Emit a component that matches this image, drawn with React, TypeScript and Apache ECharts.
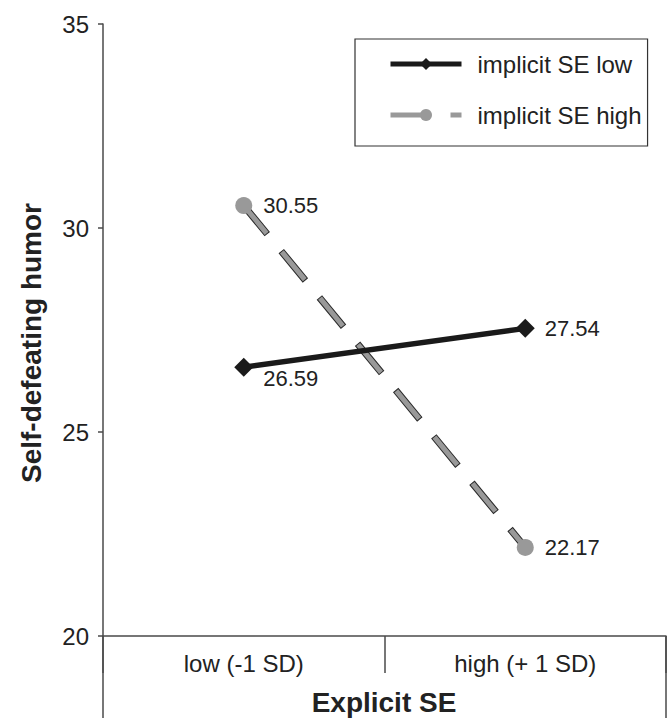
import React, { useEffect, useRef } from "react";
import * as echarts from "echarts";

const categories = ["low (-1 SD)", "high (+ 1 SD)"];
const implicitLow = [26.59, 27.54];
const implicitHigh = [30.55, 22.17];
const yTicks = { min: 20, max: 35, interval: 5 };
const seriesNames = ["implicit SE low", "implicit SE high"];
const yTitle = "Self-defeating humor";
const xTitle = "Explicit SE";

const FONT = "'Liberation Sans', Arial, Helvetica, sans-serif";
const AXIS = "#4a4a4a";
const TEXT = "#222222";

export default function App() {
  const ref = useRef<HTMLDivElement>(null);
  useEffect(() => {
    if (!ref.current) return;
    const chart = echarts.init(ref.current, undefined, { renderer: "svg" });
    chart.setOption({
      animation: false,
      backgroundColor: "#ffffff",
      textStyle: { fontFamily: FONT },
      grid: { left: 103, right: 4, top: 24, bottom: 82, containLabel: false },
      legend: {
        data: [
          { name: seriesNames[0], lineStyle: { width: 5, color: "#1a1a1a" } },
          { name: seriesNames[1], lineStyle: { width: 5, color: "#999999", type: [36, 24] } },
        ],
        orient: "vertical",
        left: 355,
        top: 39,
        padding: [13, 6, 19, 33],
        itemWidth: 71,
        itemHeight: 15,
        itemGap: 27,
        borderColor: "#333",
        borderWidth: 1.2,
        selectedMode: false,
        textStyle: { fontSize: 24, color: TEXT, fontFamily: FONT, padding: [0, 0, 0, 11] },
      },
      xAxis: [
        {
          type: "category",
          data: categories,
          axisLine: { lineStyle: { color: AXIS, width: 1.5 } },
          axisTick: { show: true, length: 37, lineStyle: { color: AXIS, width: 1.5 } },
          axisLabel: { fontSize: 24, color: TEXT, margin: 15, fontFamily: FONT },
          splitLine: { show: false },
        },
        {
          type: "category",
          data: [""],
          position: "bottom",
          axisLine: { show: false },
          axisTick: { show: true, length: 84, lineStyle: { color: AXIS, width: 1.5 } },
          axisLabel: { show: false },
          splitLine: { show: false },
        },
      ],
      yAxis: {
        type: "value",
        min: yTicks.min,
        max: yTicks.max,
        interval: yTicks.interval,
        axisLine: { show: true, lineStyle: { color: AXIS, width: 1.5 } },
        axisTick: { show: true, length: 5, lineStyle: { color: AXIS, width: 1.5 } },
        axisLabel: { fontSize: 24, color: TEXT, margin: 14, fontFamily: FONT },
        splitLine: { show: false },
      },
      graphic: [
        {
          type: "text",
          x: 31,
          y: 343,
          rotation: Math.PI / 2,
          style: {
            text: yTitle,
            fontSize: 28,
            fontWeight: "bold",
            fontFamily: FONT,
            fill: TEXT,
            align: "center",
            verticalAlign: "middle",
          },
        },
        {
          type: "text",
          x: 384,
          y: 702,
          style: {
            text: xTitle,
            fontSize: 28,
            fontWeight: "bold",
            fontFamily: FONT,
            fill: TEXT,
            align: "center",
            verticalAlign: "middle",
          },
        },
      ],
      series: [
        {
          name: "outline",
          type: "line",
          data: implicitHigh,
          symbol: "none",
          silent: true,
          z: 1,
          lineStyle: { color: "#2a2a2a", width: 7, type: [38, 22], dashOffset: 1 },
        },
        {
          name: seriesNames[1],
          type: "line",
          data: implicitHigh,
          symbol: "circle",
          symbolSize: 17,
          z: 2,
          itemStyle: { color: "#999999" },
          lineStyle: { color: "#999999", width: 5, type: [36, 24] },
          label: {
            show: true,
            position: "right",
            distance: 11,
            fontSize: 22,
            color: TEXT,
            fontFamily: FONT,
          },
        },
        {
          name: seriesNames[0],
          type: "line",
          data: implicitLow,
          symbol: "diamond",
          symbolSize: 19,
          z: 3,
          itemStyle: { color: "#1a1a1a" },
          lineStyle: { color: "#1a1a1a", width: 5.5 },
          label: {
            show: true,
            position: "right",
            distance: 10,
            fontSize: 22,
            color: TEXT,
            fontFamily: FONT,
          },
          labelLayout: (p: any) => (p.dataIndex === 0 ? { dy: 11 } : {}),
        },
      ],
    });
    return () => chart.dispose();
  }, []);
  return (
    <div
      ref={ref}
      style={{ width: 670, height: 718, position: "fixed", left: 0, top: 0 }}
    />
  );
}
